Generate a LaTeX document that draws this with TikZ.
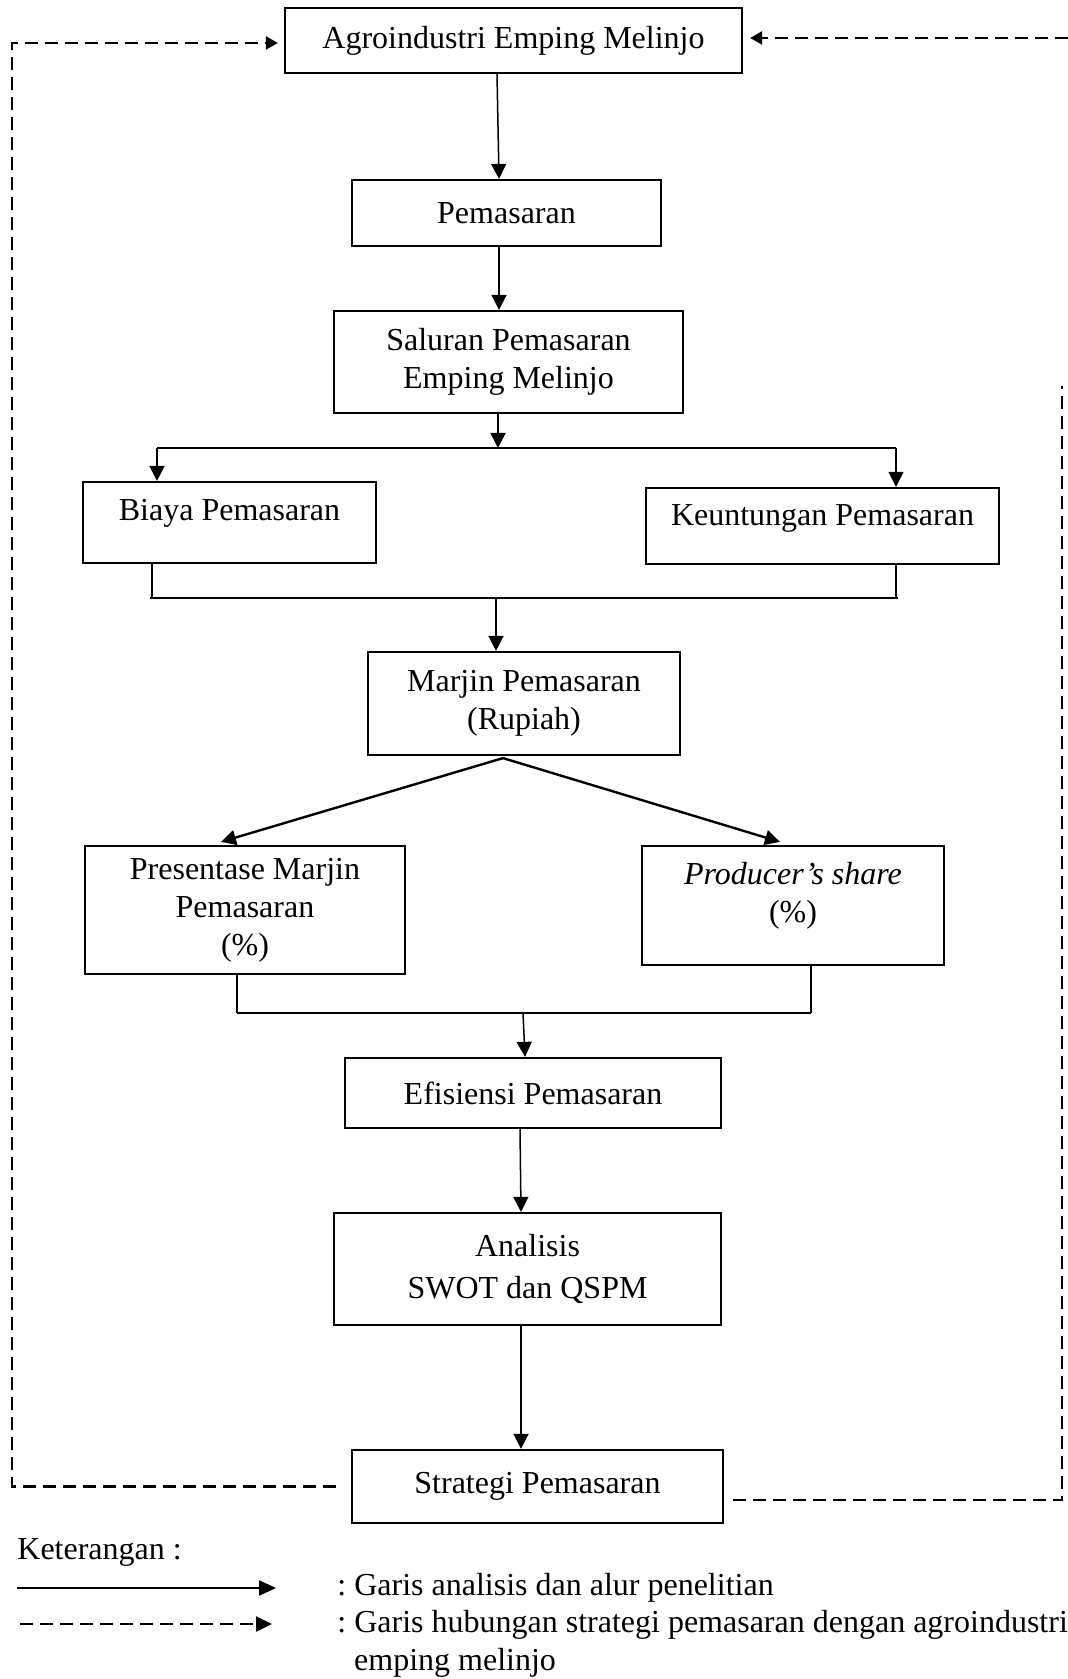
\documentclass[tikz,border=0pt]{standalone}
\usepackage{fontspec}
\setmainfont{Liberation Serif}
\usetikzlibrary{arrows.meta,calc}
\frenchspacing
\begin{document}
\begin{tikzpicture}[x=0.5pt,y=-0.5pt, font=\fontsize{16}{19}\selectfont\frenchspacing,
 box/.style={draw, line width=1.1pt, inner sep=0pt, align=center},
 arr/.style={line width=0.75pt, -{Triangle[length=7.5pt,width=7.5pt]}},
 ln/.style={line width=0.75pt},
 darr/.style={line width=1.1pt, dash pattern=on 6.5pt off 3.5pt, -{Triangle[length=6pt,width=6.5pt]}},
 dln/.style={line width=1.1pt, dash pattern=on 6.5pt off 3.5pt},
 txt/.style={inner sep=0pt, align=center}]
\useasboundingbox (0,0) rectangle (1068,1679);

% boxes
\node[box, minimum width=228.5pt, minimum height=32.5pt] (agro) at (513.5,40.5) {Agroindustri Emping Melinjo};
\node[box, minimum width=154.5pt, minimum height=33pt] (pem) at (506.5,213) {Pemasaran};
\node[box, minimum width=174.5pt, minimum height=51pt] (sal) at (508.5,362) {Saluran Pemasaran\\Emping Melinjo};
\node[box, minimum width=146.5pt, minimum height=40.5pt] (biaya) at (229.5,522.5) {};
\node[txt] (biayat) at (229.5,513) {Biaya Pemasaran};
\node[box, minimum width=176.5pt, minimum height=38pt] (keun) at (822.5,526) {};
\node[txt] (keunt) at (822.5,518) {Keuntungan Pemasaran};
\node[box, minimum width=156pt, minimum height=51.5pt] (marjin) at (524,703.5) {Marjin Pemasaran\\(Rupiah)};
\node[box, minimum width=160pt, minimum height=64pt] (pres) at (245,910) {Presentase Marjin\\Pemasaran\\(\%)};
\node[box, minimum width=151pt, minimum height=59.5pt] (prod) at (793,905.5) {};
\node[txt] (prodt) at (793,896) {\textit{Producer’s share}\\(\%)};
\node[box, minimum width=188pt, minimum height=35pt] (efi) at (533,1093) {Efisiensi Pemasaran};
\node[box, minimum width=193.5pt, minimum height=56pt] (anal) at (527.5,1269) {Analisis\\[2pt]SWOT dan QSPM};
\node[box, minimum width=185.5pt, minimum height=36.5pt] (strat) at (537.5,1486.5) {Strategi Pemasaran};

% solid flow
\draw[arr] ([xshift=-8.25pt]agro.south) -- ([xshift=-3.75pt]pem.north);
\draw[arr] ([xshift=-3.75pt]pem.south) -- ([xshift=-4.75pt]sal.north);
\coordinate (b1l) at (157,448);
\coordinate (b1r) at (896,448);
\draw[arr] ([xshift=-5.25pt]sal.south) -- ([xshift=-5.25pt]sal.south |- b1l);
\draw[ln] (b1l) -- (b1r);
\draw[arr] (b1l) -- (b1l |- biaya.north);
\draw[arr] (b1r) -- (b1r |- keun.north);

\coordinate (b2l) at (150,598);
\coordinate (b2r) at (898,598);
\draw[ln] ([xshift=-38.75pt]biaya.south) -- ([xshift=-38.75pt]biaya.south |- b2l);
\draw[ln] ([xshift=36.75pt]keun.south) -- ([xshift=36.75pt]keun.south |- b2r);
\draw[ln] (b2l) -- (b2r);
\draw[arr] ([xshift=-14pt]marjin.north |- b2l) -- ([xshift=-14pt]marjin.north);

\coordinate (ms) at ([xshift=-10.5pt,yshift=-1pt]marjin.south);
\draw[arr, line width=1.2pt] (ms) -- ([xshift=-12pt,yshift=1.5pt]pres.north);
\draw[arr, line width=1.2pt] (ms) -- ([xshift=-6.5pt,yshift=1.5pt]prod.north);

\coordinate (b3l) at (237,1013);
\coordinate (b3r) at (811,1013);
\draw[ln] ([xshift=-4pt]pres.south) -- ([xshift=-4pt]pres.south |- b3l);
\draw[ln] ([xshift=9pt]prod.south) -- ([xshift=9pt]prod.south |- b3r);
\draw[ln] (b3l) -- (b3r);
\draw[arr] ([xshift=-5pt]efi.north |- b3l) -- ([xshift=-4pt]efi.north);
\draw[arr] ([xshift=-6.5pt]efi.south) -- ([xshift=-3.25pt]anal.north);
\draw[arr] ([xshift=-3.25pt]anal.south) -- ([xshift=-8.25pt]strat.north);

% dashed feedback
\coordinate (lb) at (12,1486.5);
\coordinate (lt) at (12,43);
\draw[darr] ([xshift=-7.5pt]strat.west) -- (lb) -- (lt) -- ([xshift=-3pt,yshift=-1.25pt]agro.west);
\coordinate (rb) at (1062,1500);
\coordinate (rt) at (1062,386);
\draw[dln] ([xshift=4.5pt,yshift=-6.75pt]strat.east) -- (rb) -- (rt);
\coordinate (te) at (1068,38);
\draw[darr] (te) -- ([xshift=3.5pt,yshift=1.25pt]agro.east);

% legend
\node[anchor=west, inner sep=0pt] (ket) at (17,1552) {Keterangan :};
\coordinate (l1a) at (17,1588);
\coordinate (l1b) at (276,1588);
\draw[line width=1.2pt, -{Triangle[length=8.5pt,width=7.5pt]}] (l1a) -- (l1b);
\node[anchor=west, inner sep=0pt] (l1t) at (337,1588) {: Garis analisis dan alur penelitian};
\coordinate (l2a) at (20,1624);
\coordinate (l2b) at (272,1624);
\draw[dln, line width=1.2pt, -{Triangle[length=8pt,width=7.5pt]}] (l2a) -- (l2b);
\node[anchor=west, inner sep=0pt, align=left] (l2t) at (337,1643.5) {: Garis hubungan strategi pemasaran dengan agroindustri\\\hspace*{8.4pt}emping melinjo};
\end{tikzpicture}
\end{document}
